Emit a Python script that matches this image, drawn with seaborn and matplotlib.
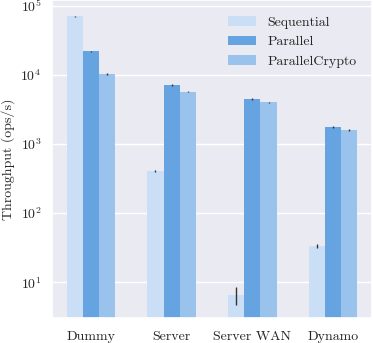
import numpy as np
import pandas as pd
import matplotlib
matplotlib.use("Agg")
import matplotlib.pyplot as plt
import seaborn as sns

categories = ["Dummy", "Server", "Server WAN", "Dynamo"]
series = ["Sequential", "Parallel", "ParallelCrypto"]
sequential = [70000, 406, 6.6, 33.3]
parallel = [21800, 7160, 4490, 1760]
parallel_crypto = [10300, 5730, 4020, 1610]
sequential_err = [1500, 10, 1.9, 2.0]
parallel_err = [300, 150, 100, 70]
parallel_crypto_err = [250, 100, 80, 50]
colors = ["#cadff5", "#65a3e1", "#99c3ec"]

sns.set_theme(style="darkgrid")
plt.rcParams["font.family"] = ["cmr10"]
plt.rcParams["mathtext.fontset"] = "cm"
plt.rcParams["axes.formatter.use_mathtext"] = True
plt.rcParams["font.size"] = 10

values = {"Sequential": sequential, "Parallel": parallel, "ParallelCrypto": parallel_crypto}
errs = {"Sequential": sequential_err, "Parallel": parallel_err, "ParallelCrypto": parallel_crypto_err}
rows = []
for s in series:
    for c, v, e in zip(categories, values[s], errs[s]):
        rows.append({"category": c, "series": s, "value": v, "err": e})
df = pd.DataFrame(rows)

fig = plt.figure(figsize=(3.73, 3.43), dpi=100)
ax = fig.add_axes([52 / 373, (343 - 318.3) / 343, 320 / 373, 318 / 343])
sns.barplot(data=df, x="category", y="value", hue="series", order=categories,
            hue_order=series, palette=colors, saturation=1, width=0.6,
            errorbar=None, linewidth=0, ax=ax, log_scale=(False, True))

# error bars at the centers of the drawn bars
for s, container in zip(series, ax.containers):
    xs = [p.get_x() + p.get_width() / 2 for p in container.patches]
    ax.errorbar(xs, values[s], yerr=errs[s], fmt="none", ecolor="#333333",
                elinewidth=1.0, capsize=0)

ax.set_yscale("log")
ax.set_ylim(3, 1.2e5)
ax.set_xlim(-0.48, 3.48)
ax.yaxis.set_minor_locator(matplotlib.ticker.NullLocator())
ax.set_xlabel("")
ax.set_ylabel("Throughput (ops/s)", fontsize=10)
ax.tick_params(axis="y", length=0, pad=7.5, labelsize=10)
ax.tick_params(axis="x", length=0, pad=9, labelsize=10)

leg = ax.legend(loc="upper right", fontsize=10, frameon=True, framealpha=1,
                facecolor="#EAEAF2", edgecolor="#EAEAF2", borderaxespad=0.72)
leg.get_frame().set_linewidth(0)

fig.savefig("out.png", dpi=100)
